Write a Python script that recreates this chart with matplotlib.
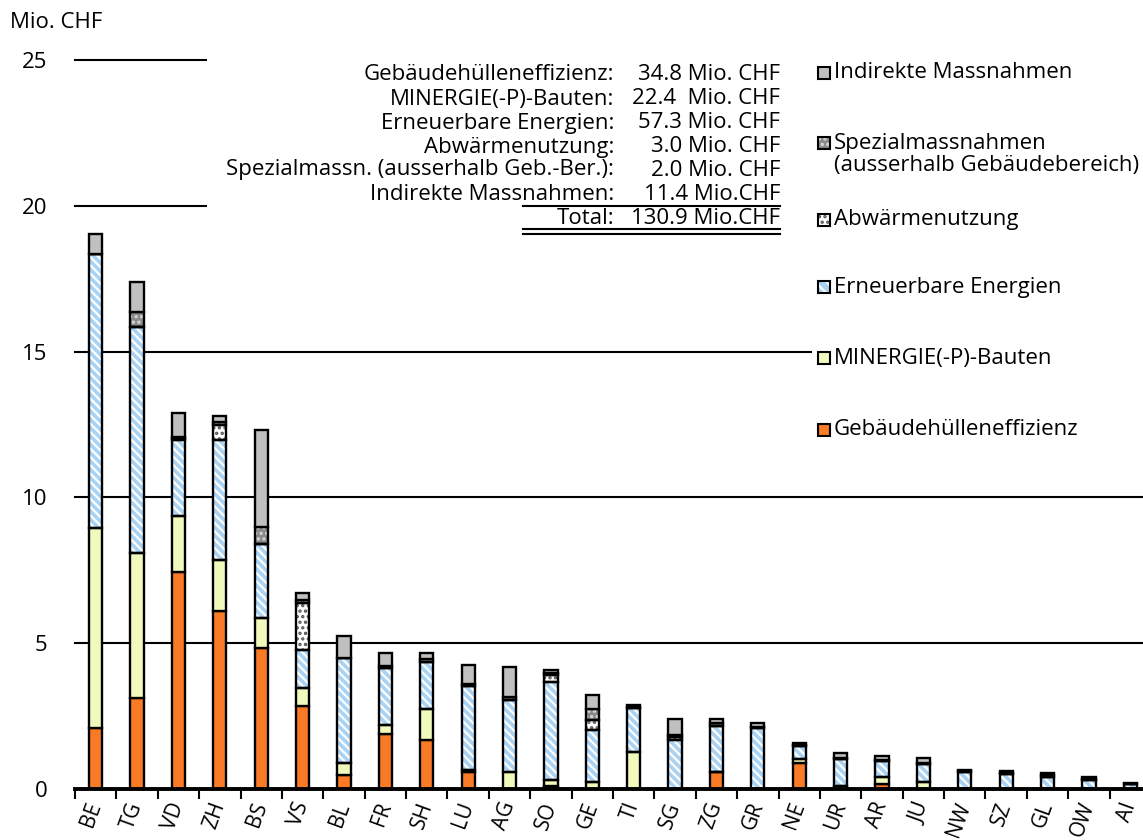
#!/usr/bin/env python3

import matplotlib

matplotlib.use("Agg")
import matplotlib.pyplot as plt
import numpy as np
from matplotlib.lines import Line2D
from matplotlib.patches import Rectangle

plt.rcParams["font.family"] = ["Open Sans", "DejaVu Sans"]
plt.rcParams["hatch.linewidth"] = 1.6

# Beiträge je Kanton (Mio. CHF)
cantons = ["BE", "TG", "VD", "ZH", "BS", "VS", "BL", "FR", "SH", "LU", "AG", "SO", "GE",
           "TI", "SG", "ZG", "GR", "NE", "UR", "AR", "JU", "NW", "SZ", "GL", "OW", "AI"]
gebaeude = [2.08, 3.13, 7.43, 6.10, 4.85, 2.85, 0.49, 1.89, 1.68, 0.60, 0.00, 0.12, 0.00,
            0.00, 0.00, 0.60, 0.00, 0.88, 0.00, 0.17, 0.00, 0.00, 0.00, 0.00, 0.00, 0.00]
minergie = [6.86, 4.98, 1.93, 1.75, 1.02, 0.62, 0.40, 0.29, 1.05, 0.05, 0.60, 0.18, 0.25,
            1.26, 0.00, 0.00, 0.00, 0.15, 0.10, 0.23, 0.25, 0.00, 0.00, 0.00, 0.00, 0.00]
erneuerbar = [9.39, 7.73, 2.62, 4.13, 2.52, 1.28, 3.61, 1.97, 1.62, 2.88, 2.46, 3.37, 1.79,
              1.51, 1.68, 1.55, 2.09, 0.43, 0.93, 0.57, 0.61, 0.58, 0.52, 0.42, 0.30, 0.17]
abwaerme = [0.00, 0.00, 0.05, 0.52, 0.00, 1.64, 0.00, 0.00, 0.00, 0.00, 0.00, 0.25, 0.33,
            0.00, 0.12, 0.00, 0.00, 0.00, 0.00, 0.00, 0.00, 0.00, 0.00, 0.00, 0.00, 0.00]
spezial = [0.00, 0.51, 0.05, 0.10, 0.60, 0.10, 0.00, 0.07, 0.10, 0.07, 0.08, 0.05, 0.36,
           0.05, 0.05, 0.10, 0.04, 0.05, 0.04, 0.02, 0.02, 0.03, 0.03, 0.05, 0.05, 0.00]
indirekt = [0.72, 1.04, 0.83, 0.20, 3.33, 0.23, 0.76, 0.45, 0.22, 0.65, 1.04, 0.10, 0.50,
            0.07, 0.55, 0.15, 0.12, 0.06, 0.15, 0.15, 0.20, 0.04, 0.06, 0.08, 0.05, 0.03]

# Summenblock oben
summary_labels = ["Gebäudehülleneffizienz:", "MINERGIE(-P)-Bauten:", "Erneuerbare Energien:",
                  "Abwärmenutzung:", "Spezialmassn. (ausserhalb Geb.-Ber.):",
                  "Indirekte Massnahmen:", "Total:"]
summary_values = ["34.8 Mio. CHF", "22.4  Mio. CHF", "57.3 Mio. CHF", "3.0 Mio. CHF",
                  "2.0 Mio. CHF", "11.4 Mio.CHF", "130.9 Mio.CHF"]

# (Daten, Label, Füllfarbe, Hatch, Hatchfarbe)
series = [
    (gebaeude, "Gebäudehülleneffizienz", "#FA7A26", None, None),
    (minergie, "MINERGIE(-P)-Bauten", "#F2F9BD", None, None),
    (erneuerbar, "Erneuerbare Energien", "#A9D3F5", "\\\\\\\\", "white"),
    (abwaerme, "Abwärmenutzung", "white", "...", "#555555"),
    (spezial, "Spezialmassnahmen\n(ausserhalb Gebäudebereich)", "#8A8A8A", "...", "#D8D8D8"),
    (indirekt, "Indirekte Massnahmen", "#C0C0C0", None, None),
]

W, H = 1143, 840
FS = 16


def fx(px):
    return px / W


def fy(py):
    return 1 - py / H


fig = plt.figure(figsize=(W / 100, H / 100), dpi=100)
ax = fig.add_axes([fx(75), fy(789), 1076 / W, 729 / H])

x = np.arange(len(cantons))
width = 0.32
bottom = np.zeros(len(cantons))
for values, label, color, hatch, hcolor in series:
    vals = np.array(values)
    if hatch:
        ax.bar(x, vals, width, bottom=bottom, color=color, hatch=hatch,
               edgecolor=hcolor, linewidth=0, zorder=2)
        ax.bar(x, vals, width, bottom=bottom, fill=False, edgecolor="black",
               linewidth=1.7, zorder=3)
    else:
        ax.bar(x, vals, width, bottom=bottom, color=color, edgecolor="black",
               linewidth=1.7, zorder=3)
    bottom += vals

# Gitterlinien
for yv in [5, 10, 15, 20, 25]:
    ax.axhline(yv, color="black", linewidth=1.5, zorder=0, clip_on=False)

ax.set_xlim(-0.5, 25.5)
ax.set_ylim(0, 25)
for side in ["top", "right", "left"]:
    ax.spines[side].set_visible(False)
ax.spines["bottom"].set_linewidth(2.8)
ax.spines["bottom"].set_zorder(4)

ax.set_yticks([0, 5, 10, 15, 20, 25])
ax.tick_params(axis="y", length=0, pad=20, labelsize=FS)
ax.set_xticks(x)
ax.set_xticklabels(cantons, rotation=70, ha="right", va="center",
                   rotation_mode="anchor", fontsize=15)
ax.tick_params(axis="x", which="major", length=0, pad=10)
ax.set_xticks(np.arange(-0.5, 26, 1), minor=True)
ax.tick_params(axis="x", which="minor", length=7, width=1.5, color="black")

fig.text(fx(10), fy(22), "Mio. CHF", fontsize=FS, ha="left", va="center")

# weisse Flächen über den Gitterlinien
fig.add_artist(Rectangle((fx(207), fy(250)), fx(812) - fx(207), fy(45) - fy(250),
                         transform=fig.transFigure, facecolor="white",
                         edgecolor="none", zorder=1))
fig.add_artist(Rectangle((fx(812), fy(450)), 1 - fx(812), fy(45) - fy(450),
                         transform=fig.transFigure, facecolor="white",
                         edgecolor="none", zorder=1))

# Summenblock
rows_y = [75, 99, 123, 147, 170, 194, 218]
for lab, val, py in zip(summary_labels, summary_values, rows_y):
    fig.text(fx(614), fy(py), lab, fontsize=FS, ha="right", va="center", zorder=5)
    fig.text(fx(780), fy(py), val, fontsize=FS, ha="right", va="center", zorder=5)
for py in [206, 229, 234]:
    fig.add_artist(Line2D([fx(523), fx(780)], [fy(py), fy(py)], color="black",
                          linewidth=1.5, transform=fig.transFigure, zorder=5))

# Legende (von oben nach unten)
legend_y = [73, 143, 220, 287, 358, 430]
for (values, label, color, hatch, hcolor), py in zip(series[::-1], legend_y):
    if hatch:
        fig.add_artist(Rectangle((fx(818), fy(py + 6)), 12 / W, 12 / H,
                                 transform=fig.transFigure, facecolor=color,
                                 hatch=hatch[:3], edgecolor=hcolor, linewidth=0,
                                 zorder=5))
    else:
        fig.add_artist(Rectangle((fx(818), fy(py + 6)), 12 / W, 12 / H,
                                 transform=fig.transFigure, facecolor=color,
                                 edgecolor="none", zorder=5))
    fig.add_artist(Rectangle((fx(818), fy(py + 6)), 12 / W, 12 / H,
                             transform=fig.transFigure, fill=False,
                             edgecolor="black", linewidth=1.5, zorder=6))
    lines = label.split("\n")
    for k, line in enumerate(lines):
        fig.text(fx(834), fy(py + 23 * k), line, fontsize=FS, ha="left",
                 va="center", zorder=5)

plt.savefig("out.png", dpi=100)
